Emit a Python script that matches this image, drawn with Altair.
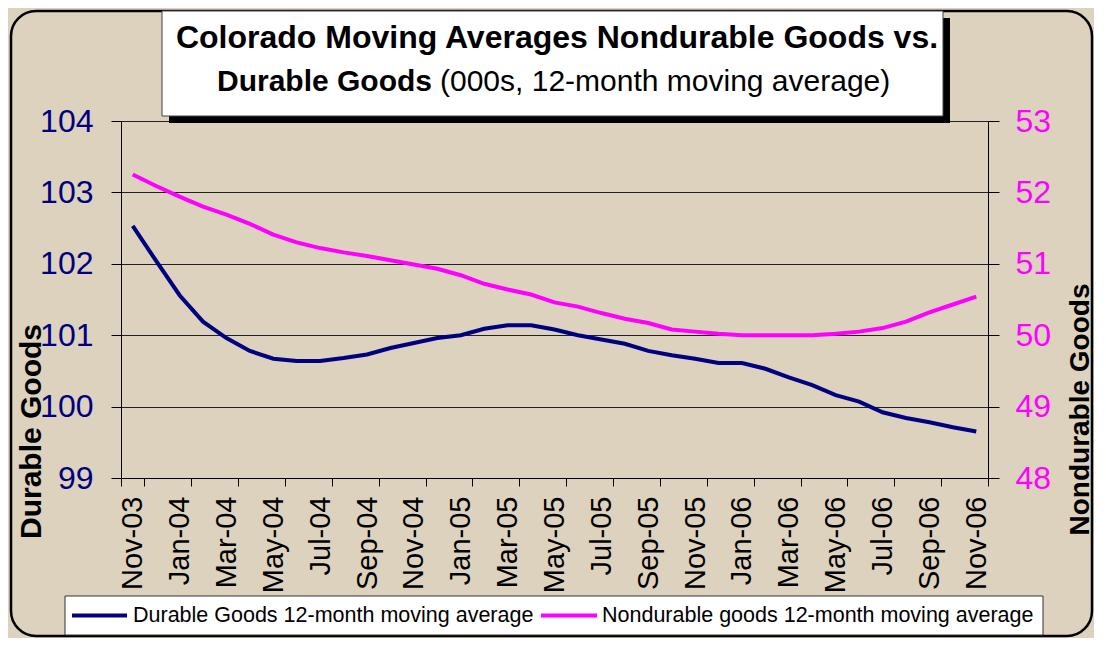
import altair as alt
import pandas as pd

months = ["Nov-03", "Dec-03", "Jan-04", "Feb-04", "Mar-04", "Apr-04", "May-04", "Jun-04",
          "Jul-04", "Aug-04", "Sep-04", "Oct-04", "Nov-04", "Dec-04", "Jan-05", "Feb-05",
          "Mar-05", "Apr-05", "May-05", "Jun-05", "Jul-05", "Aug-05", "Sep-05", "Oct-05",
          "Nov-05", "Dec-05", "Jan-06", "Feb-06", "Mar-06", "Apr-06", "May-06", "Jun-06",
          "Jul-06", "Aug-06", "Sep-06", "Oct-06", "Nov-06"]

durable = [102.53, 102.04, 101.56, 101.19, 100.96, 100.78, 100.67, 100.64, 100.64, 100.68,
           100.73, 100.82, 100.89, 100.96, 101.00, 101.09, 101.14, 101.14, 101.08, 101.00,
           100.94, 100.88, 100.78, 100.72, 100.67, 100.61, 100.61, 100.53, 100.41, 100.30,
           100.16, 100.07, 99.92, 99.84, 99.78, 99.71, 99.65]

nondurable = [52.25, 52.09, 51.94, 51.80, 51.69, 51.56, 51.41, 51.30, 51.22, 51.16,
              51.11, 51.05, 50.99, 50.93, 50.84, 50.72, 50.64, 50.57, 50.46, 50.40,
              50.31, 50.23, 50.17, 50.08, 50.05, 50.02, 50.00, 50.00, 50.00, 50.00,
              50.02, 50.05, 50.10, 50.19, 50.32, 50.43, 50.54]

tick_labels = ["Nov-03", "Jan-04", "Mar-04", "May-04", "Jul-04", "Sep-04", "Nov-04",
               "Jan-05", "Mar-05", "May-05", "Jul-05", "Sep-05", "Nov-05", "Jan-06",
               "Mar-06", "May-06", "Jul-06", "Sep-06", "Nov-06"]

left_ticks = [99, 100, 101, 102, 103, 104]
right_ticks = [48, 49, 50, 51, 52, 53]

durable_name = "Durable Goods 12-month moving average"
nondurable_name = "Nondurable goods 12-month moving average"

title_line1 = "Colorado Moving Averages Nondurable Goods vs."
title_line2_bold = "Durable Goods"
title_line2_regular = "(000s, 12-month moving average)"

W, H = 867, 357
FONT = "Liberation Sans"
NAVY = "#000080"
MAGENTA = "#FF00FF"
BEIGE = "#dcd2be"

df_d = pd.DataFrame({"month": months, "value": durable, "series": durable_name})
df_n = pd.DataFrame({"month": months, "value": nondurable, "series": nondurable_name})
deco = pd.DataFrame({"k": [0]})

x_enc = alt.X(
    "month:N", sort=months, bandPosition=0.5,
    scale=alt.Scale(type="band", paddingInner=0, paddingOuter=0),
    axis=alt.Axis(values=tick_labels, title=None, labelAngle=-90, labelFontSize=29,
                  labelFont=FONT, labelColor="black", tickBand="extent", tickSize=8,
                  labelPadding=10, domainColor="black", tickColor="black", grid=False,
                  labelOverlap=False),
)

color_scale = alt.Scale(domain=[durable_name, nondurable_name], range=[NAVY, MAGENTA])
color = alt.Color("series:N", scale=color_scale, legend=None)

left = alt.Chart(df_d).mark_line(strokeWidth=4).encode(
    x=x_enc,
    y=alt.Y("value:Q",
            scale=alt.Scale(domain=[99, 104], nice=False, zero=False),
            axis=alt.Axis(values=left_ticks, orient="left", title="Durable Goods",
                          titleFont=FONT, titleFontSize=30, titleFontWeight="bold",
                          titleColor="black", titleAngle=270, titleX=-90, titleY=310,
                          titleAlign="center", titleBaseline="middle",
                          labelFont=FONT, labelFontSize=32, labelColor=NAVY,
                          tickSize=10, labelPadding=18, grid=True, gridColor="#222222",
                          gridWidth=1, domainColor="black", tickColor="black")),
    color=color,
)

right = alt.Chart(df_n).mark_line(strokeWidth=4).encode(
    x=x_enc,
    y=alt.Y("value:Q",
            scale=alt.Scale(domain=[48, 53], nice=False, zero=False),
            axis=alt.Axis(values=right_ticks, orient="right", title="Nondurable Goods",
                          titleFont=FONT, titleFontSize=28, titleFontWeight="bold",
                          titleColor="black", titleAngle=270, titleX=92, titleY=288,
                          titleAlign="center", titleBaseline="middle",
                          labelFont=FONT, labelFontSize=32, labelColor=MAGENTA,
                          tickSize=11, labelPadding=16, grid=False,
                          domainColor="black", tickColor="black")),
    color=color,
)

frame = alt.Chart(deco).mark_rect(fillOpacity=0, stroke="black", strokeWidth=2.5,
                                  cornerRadius=25).encode(
    x=alt.value(-110), x2=alt.value(971), y=alt.value(-110), y2=alt.value(515))

shadow = alt.Chart(deco).mark_rect(color="black").encode(
    x=alt.value(48), x2=alt.value(829), y=alt.value(-103), y2=alt.value(2))

box = alt.Chart(deco).mark_rect(fill="white", stroke="#444444", strokeWidth=1).encode(
    x=alt.value(41), x2=alt.value(822), y=alt.value(-110), y2=alt.value(-5))

t1 = alt.Chart(deco).mark_text(text=title_line1, font=FONT, fontSize=32, fontWeight="bold",
                               align="center", baseline="alphabetic", color="black").encode(
    x=alt.value(436), y=alt.value(-73))

t2a = alt.Chart(deco).mark_text(text=title_line2_bold, font=FONT, fontSize=30,
                                fontWeight="bold", align="right", baseline="alphabetic",
                                color="black").encode(
    x=alt.value(311), y=alt.value(-30))

t2b = alt.Chart(deco).mark_text(text=title_line2_regular, font=FONT, fontSize=30,
                                fontWeight="normal", align="left", baseline="alphabetic",
                                color="black").encode(
    x=alt.value(319), y=alt.value(-30))

# Legend (box, line samples and labels) built from the series names
legend_box = alt.Chart(deco).mark_rect(fill="white", stroke="#333333", strokeWidth=1).encode(
    x=alt.value(-56), x2=alt.value(922), y=alt.value(475), y2=alt.value(514))

df_leg1 = pd.DataFrame({"series": [durable_name]})
df_leg2 = pd.DataFrame({"series": [nondurable_name]})

leg1_line = alt.Chart(df_leg1).mark_rule(strokeWidth=4).encode(
    x=alt.value(-49), x2=alt.value(6), y=alt.value(494.5), color=color)
leg1_text = alt.Chart(df_leg1).mark_text(font=FONT, fontSize=21.5, align="left",
                                         baseline="middle", color="black").encode(
    x=alt.value(12), y=alt.value(495), text="series:N")
leg2_line = alt.Chart(df_leg2).mark_rule(strokeWidth=4).encode(
    x=alt.value(420), x2=alt.value(476), y=alt.value(494.5), color=color)
leg2_text = alt.Chart(df_leg2).mark_text(font=FONT, fontSize=21.5, align="left",
                                         baseline="middle", color="black").encode(
    x=alt.value(481), y=alt.value(495), text="series:N")

chart = alt.layer(frame, left, right, shadow, box, t1, t2a, t2b,
                  legend_box, leg1_line, leg1_text, leg2_line, leg2_text).resolve_scale(
    y="independent"
).properties(
    width=W, height=H,
    autosize=alt.AutoSizeParams(type="none"),
    padding={"left": 113, "top": 113, "right": 106, "bottom": 160},
    background=BEIGE,
).configure_view(fill="white", stroke="transparent").configure(font=FONT)

chart.save("out.html", embed_options={"renderer": "svg", "actions": False})
